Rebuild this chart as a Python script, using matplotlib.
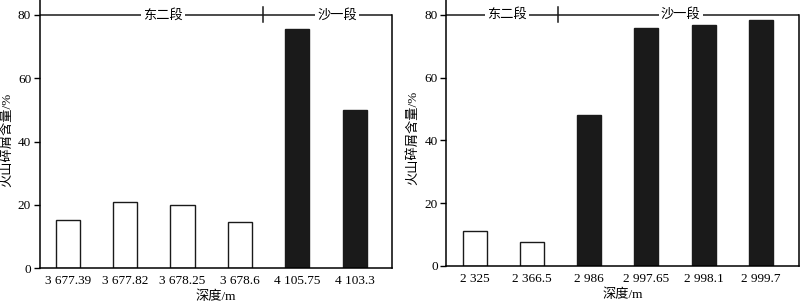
#!/usr/bin/env python3
import numpy as np
import matplotlib
matplotlib.use("Agg")
import matplotlib.pyplot as plt

plt.rcParams['font.family'] = ['Liberation Serif', 'Noto Sans CJK SC']

# left panel
left_labels = ["3 677.39", "3 677.82", "3 678.25", "3 678.6", "4 105.75", "4 103.3"]
left_values = [15.2, 21.0, 20.0, 14.7, 75.7, 50.0]
left_dark = [False, False, False, False, True, True]
left_split = 3.4
left_groups = [("东二段", 1.66), ("沙一段", 4.7)]

# right panel
right_labels = ["2 325", "2 366.5", "2 986", "2 997.65", "2 998.1", "2 999.7"]
right_values = [11.0, 7.6, 48.2, 75.8, 76.8, 78.4]
right_dark = [False, False, True, True, True, True]
right_split = 1.45
right_groups = [("东二段", 0.56), ("沙一段", 3.6)]

ylabel = "火山碎屑含量/%"
xlabel = "深度/m"

fig = plt.figure(figsize=(8.0, 3.05), dpi=100)
ax1 = fig.add_axes([0.0494, 0.1203, 0.4406, 0.8797])
ax2 = fig.add_axes([0.5575, 0.1279, 0.4410, 0.8721])


def draw(ax, labels, values, dark, split, groups, xlim):
    x = np.arange(len(values))
    colors = ['#1a1a1a' if d else 'white' for d in dark]
    ax.bar(x, values, width=0.42, color=colors, edgecolor='#1a1a1a', linewidth=1.0)
    ax.set_xlim(*xlim)
    ax.set_ylim(0, 84.7)
    ax.set_xticks(x)
    ax.set_xticklabels(labels, fontsize=9.5)
    ax.tick_params(axis='x', length=0, pad=5)
    ax.set_yticks([0, 20, 40, 60, 80])
    ax.tick_params(axis='y', direction='out', length=4, width=1, labelsize=9.5, pad=2)
    ax.spines['top'].set_visible(False)
    ax.spines['right'].set_bounds(0, 80)
    for s in ['left', 'right', 'bottom']:
        ax.spines[s].set_linewidth(1.1)
    ax.axhline(80, color='#1a1a1a', lw=1.1)
    ax.plot([split, split], [77.6, 82.4], color='#1a1a1a', lw=1.1)
    for name, pos in groups:
        ax.text(pos, 80, name, ha='center', va='center', fontsize=9.5,
                bbox=dict(facecolor='white', edgecolor='none', pad=1.5))
    ax.set_ylabel(ylabel, fontsize=9.5)
    ax.yaxis.set_label_coords(-0.075, 0.48)
    ax.set_xlabel(xlabel, fontsize=9.5, labelpad=2.5)


draw(ax1, left_labels, left_values, left_dark, left_split, left_groups, (-0.49, 5.65))
draw(ax2, right_labels, right_values, right_dark, right_split, right_groups, (-0.5, 5.66))

fig.savefig("out.png", dpi=100)
